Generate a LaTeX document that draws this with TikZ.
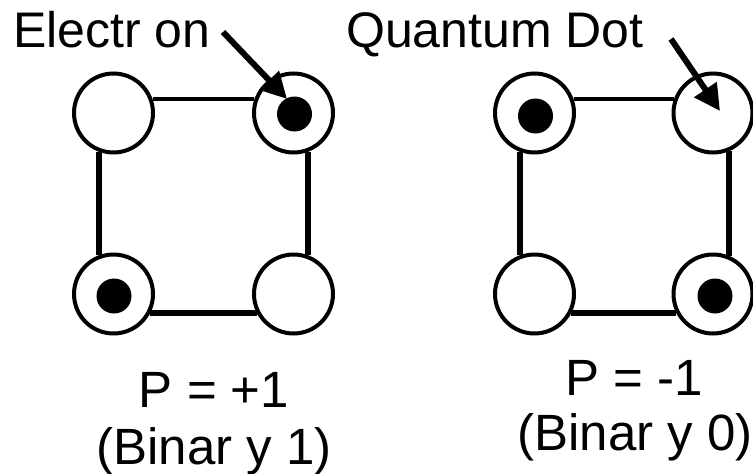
\documentclass[tikz,border=0pt]{standalone}
\usepackage{fontspec}
\setmainfont{Liberation Sans}
\usetikzlibrary{arrows.meta}
\begin{document}
\begin{tikzpicture}[x=1pt,y=-1pt,
  qdot/.style={circle,draw,line width=4pt,minimum size=79pt,inner sep=0pt},
  elec/.style={circle,fill,minimum size=35pt,inner sep=0pt},
  wire/.style={line width=6pt},
  thinwire/.style={line width=4pt},
  lbl/.style={font=\fontsize{50}{60}\selectfont,inner sep=0pt},
  blbl/.style={font=\fontsize{51}{61}\selectfont,inner sep=0pt},
  ptr/.style={line width=6pt,-{Triangle[length=26pt,width=26pt]}}]
\useasboundingbox (0,0) rectangle (753,474);
% left cell
\node[qdot] (ltl) at (113.5,113) {};
\node[qdot] (ltr) at (293.5,113) {};
\node[qdot] (lbl) at (113.5,294) {};
\node[qdot] (lbr) at (293.5,294) {};
\node[elec] (ld1) at (294.5,114) {};
\node[elec] (ld2) at (114,296) {};
\draw[thinwire] (ltl.19) -- (ltr.161);
\draw[wire] (ltl.250) -- (lbl.110);
\draw[wire] (ltr.290) -- (lbr.70);
\draw[wire] (lbl.-27) -- (lbr.207);
% right cell
\node[qdot] (rtl) at (534.5,113) {};
\node[qdot] (rtr) at (713,113) {};
\node[qdot] (rbl) at (534.5,294) {};
\node[qdot] (rbr) at (713,294) {};
\node[elec] (rd1) at (535.5,116) {};
\node[elec] (rd2) at (715,296) {};
\draw[thinwire] (rtl.19) -- (rtr.161);
\draw[wire] (rtl.250) -- (rbl.110);
\draw[wire] (rtr.292) -- (rbr.68);
\draw[wire] (rbl.-27) -- (rbr.207);
% labels
\node[lbl,anchor=base west] (telec) at (13,47) {Electr on};
\node[lbl,anchor=base west] (tqd) at (346,47) {Quantum Dot};
\node[blbl,anchor=base] (p1) at (214,407) {P = +1};
\node[blbl,anchor=base] (b1) at (214,464) {(Binar y 1)};
\node[blbl,anchor=base] (p2) at (634,395) {P = -1};
\node[blbl,anchor=base] (b2) at (635,450) {(Binar y 0)};
% pointers
\coordinate (es) at (223,32);
\coordinate (ee) at (287,99);
\coordinate (qs) at (671,39);
\coordinate (qe) at (720,111);
\draw[ptr] (es) -- (ee);
\draw[ptr] (qs) -- (qe);
\end{tikzpicture}
\end{document}
